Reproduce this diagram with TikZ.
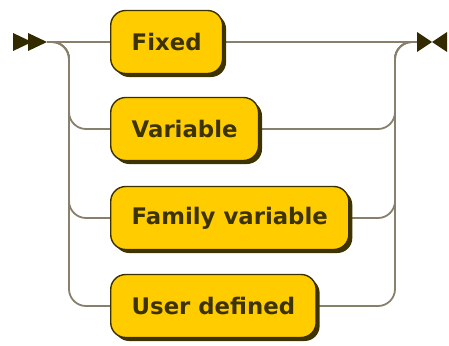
\documentclass[tikz,border=0pt]{standalone}
\usepackage{fontspec}
\newfontfamily\boxfont{DejaVu Sans}[BoldFont={DejaVu Sans Bold}]
\usetikzlibrary{shadows}
\definecolor{boxfill}{HTML}{FFCC00}
\definecolor{boxline}{HTML}{3B3100}
\definecolor{shadowcol}{HTML}{3D3400}
\definecolor{txtcol}{HTML}{3D3300}
\definecolor{conncol}{HTML}{86806C}
\definecolor{tipcol}{HTML}{332A00}
\pgfdeclarelayer{bg}
\pgfsetlayers{bg,main}
\tikzset{
  rrbox/.style={draw=boxline, line width=1.4pt, fill=boxfill, rounded corners=15pt,
    minimum height=63pt, inner xsep=21pt, anchor=west, text=txtcol,
    font=\boxfont\bfseries\fontsize{22.8pt}{25pt}\selectfont,
    drop shadow={shadow xshift=3.5pt, shadow yshift=-3.5pt, fill=shadowcol, opacity=1}},
  conn/.style={draw=conncol, line width=1.8pt, rounded corners=17pt},
  tip/.style={fill=tipcol}
}
\begin{document}
\begin{tikzpicture}[x=1pt,y=-1pt]
\useasboundingbox (0,0) rectangle (449,345);
\coordinate (start) at (47,42);
\coordinate (endc) at (417,42);
\coordinate (busL) at (69,42);
\coordinate (busR) at (395,42);
\node[rrbox] (fixed) at (110,42) {Fixed};
\node[rrbox] (var) at (110,129) {Variable};
\node[rrbox] (fam) at (110,218) {Family variable};
\node[rrbox] (user) at (110,306) {User defined};
\begin{pgfonlayer}{bg}
\draw[conn] (start) -- (fixed.west);
\draw[conn] (fixed.east) -- (endc);
\foreach \b in {var,fam,user}{
  \draw[conn] (start) -| (busL |- \b.west) -- (\b.west);
  \draw[conn] (\b.east) -| (busR |- endc) -- (endc);
}
\end{pgfonlayer}
\fill[tip] (13,33) -- (32,42) -- (13,51) -- cycle;
\fill[tip] (28,33) -- (47,42) -- (28,51) -- cycle;
\fill[tip] (417,32) -- (432,42) -- (417,52) -- cycle;
\fill[tip] (447,32) -- (432,42) -- (447,52) -- cycle;
\end{tikzpicture}
\end{document}
